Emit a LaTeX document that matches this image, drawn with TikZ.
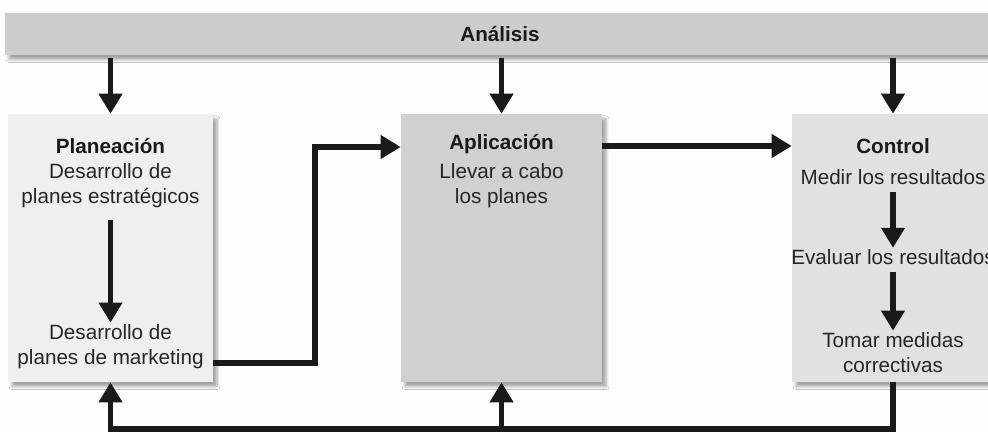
\documentclass[tikz,border=0pt]{standalone}
\usepackage{fontspec}
\setmainfont{Liberation Sans}
\usetikzlibrary{arrows.meta,shadows.blur}
\definecolor{barc}{HTML}{CDCDCD}
\definecolor{planc}{HTML}{EFEFEF}
\definecolor{aplic}{HTML}{D0D0D0}
\definecolor{ctrlc}{HTML}{E1E1E1}
\definecolor{ink}{HTML}{1A1A1A}
\definecolor{txt}{HTML}{262626}
\definecolor{bgc}{HTML}{FDFDFB}
\begin{document}
\begin{tikzpicture}[x=0.75pt,y=-0.75pt,
  panel/.style={draw=none, inner sep=0pt, minimum height=201pt,
    blur shadow={shadow xshift=3pt, shadow yshift=-3.5pt, shadow blur steps=6, shadow opacity=35}},
  lbl/.style={inner sep=1pt, align=center, text=txt,
    font=\fontsize{15.5}{19}\selectfont},
  ttl/.style={inner sep=1pt, align=center, text=ink,
    font=\fontsize{15.5}{19}\selectfont\bfseries},
  conn/.style={draw=ink, line width=3.9pt, line join=miter},
  arr/.style={conn, -{Triangle[length=15pt,width=17pt]}}]
\useasboundingbox (0,0) rectangle (988,433);
\fill[bgc] (0,0) rectangle (988,433);

% analysis bar
\node[draw=none, fill=barc, inner sep=0pt, minimum width=742.5pt, minimum height=31.5pt,
  blur shadow={shadow xshift=3pt, shadow yshift=-3.5pt, shadow blur steps=6, shadow opacity=35},
  font=\fontsize{15.5}{19}\selectfont\bfseries, text=ink] (bar) at (500,34) {Análisis};

% panels
\node[panel, fill=planc, minimum width=153.75pt] (plan) at (110.5,248) {};
\node[panel, fill=aplic, minimum width=150.75pt] (apli) at (501.5,248) {};
\node[panel, fill=ctrlc, minimum width=151.5pt] (ctrl) at (893,248) {};

% Planeacion texts
\node[ttl] (p0) at (110.5,146) {Planeación};
\node[lbl] (p1) at (110.5,185.5) {Desarrollo de\\planes estratégicos};
\node[lbl] (p2) at (110.5,346.5) {Desarrollo de\\planes de marketing};

% Aplicacion texts
\node[ttl] (a0) at (501.5,144) {Aplicación};
\node[lbl] (a1) at (501.5,185.5) {Llevar a cabo\\los planes};

% Control texts
\node[ttl] (c0) at (893,146) {Control};
\node[lbl] (c1) at (893,177) {Medir los resultados};
\node[lbl] (c2) at (893,257) {Evaluar los resultados};
\node[lbl] (c3) at (893,352.5) {Tomar medidas\\correctivas};

% arrows from analysis bar
\draw[arr, shorten <=2pt] (bar.south -| plan.north) -- (plan.north);
\draw[arr, shorten <=2pt] (bar.south -| apli.north) -- (apli.north);
\draw[arr, shorten <=2pt] (bar.south -| ctrl.north) -- (ctrl.north);

% inner arrows
\draw[arr, shorten <=8pt] (p1.south) -- (p2.north);
\draw[arr, shorten <=4pt] (c1.south) -- (c2.north);
\draw[arr, shorten <=4pt] (c2.south) -- (c3.north);

% planeacion -> aplicacion
\coordinate (k1) at (315,363);
\coordinate (k2) at (315,147);
\draw[arr] (plan.east |- k1) -- (k1) -- (k2) -- (apli.west |- k2);

% aplicacion -> control
\coordinate (k3) at (700,146);
\draw[arr] (apli.east |- k3) -- (ctrl.west |- k3);

% feedback
\coordinate (b1) at (893,429);
\coordinate (b2) at (110.5,429);
\coordinate (b3) at (501.5,429);
\draw[arr] (ctrl.south) -- (b1) -- (b2) -- (plan.south);
\draw[arr] (b3) -- (apli.south);
\end{tikzpicture}
\end{document}
